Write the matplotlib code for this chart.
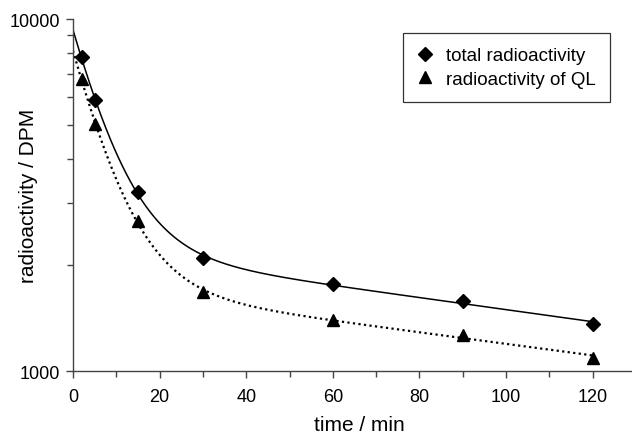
import numpy as np
import matplotlib
matplotlib.use("Agg")
import matplotlib.pyplot as plt
from matplotlib.ticker import LogLocator, NullFormatter, FixedLocator

plt.rcParams['font.family'] = ['Liberation Sans', 'DejaVu Sans']

# sampling times (min) and measured activities (DPM)
time_min = np.array([2, 5, 15, 30, 60, 90, 120])
total_dpm = np.array([7780, 5890, 3230, 2090, 1767, 1585, 1361])
ql_dpm = np.array([6760, 5040, 2675, 1675, 1400, 1267, 1089])

x_ticks = [0, 20, 40, 60, 80, 100, 120]
y_ticks = [1000, 10000]
y_ticklabels = ['1000', '10000']


def biexp_fit(t, y):
    # two-compartment fit y = A exp(-a t) + B exp(-b t), relative weighting
    best = None
    w = 1.0 / y
    for a in np.linspace(0.02, 0.6, 150):
        for b in np.linspace(0.0005, 0.02, 120):
            m = np.column_stack([np.exp(-a * t), np.exp(-b * t)])
            coef, *_ = np.linalg.lstsq(m * w[:, None], y * w, rcond=None)
            err = np.sum(((m @ coef - y) * w) ** 2)
            if best is None or err < best[0]:
                best = (err, a, b, coef)
    _, a, b, (A, B) = best
    return lambda x: A * np.exp(-a * x) + B * np.exp(-b * x)


tt = np.linspace(0, 120, 400)
total_fit = biexp_fit(time_min, total_dpm)
ql_fit = biexp_fit(time_min, ql_dpm)

fig = plt.figure(figsize=(6.32, 4.35), dpi=100)
ax = fig.add_axes([0.1155, 0.1448, 0.8875, 0.8092])

ax.plot(tt, total_fit(tt), color='black', lw=1.1, zorder=2)
ax.plot(tt, ql_fit(tt), color='black', lw=1.6, linestyle=(0, (1, 1.5)), zorder=2)
ax.plot(time_min, total_dpm, 'D', color='black', ms=6.8, label='total radioactivity', zorder=3)
ax.plot(time_min, ql_dpm, '^', color='black', ms=9, label='radioactivity of QL', zorder=3)

ax.set_yscale('log')
ax.set_ylim(1000, 10000)
ax.set_xlim(0, 129.5)
ax.xaxis.set_major_locator(FixedLocator(x_ticks))
ax.xaxis.set_minor_locator(FixedLocator([10, 30, 50, 70, 90, 110]))
ax.yaxis.set_major_locator(FixedLocator(y_ticks))
ax.yaxis.set_minor_locator(LogLocator(base=10, subs=np.arange(2, 10)))
ax.yaxis.set_minor_formatter(NullFormatter())
ax.set_yticklabels(y_ticklabels)

for side in ['top', 'right']:
    ax.spines[side].set_visible(False)
for side in ['left', 'bottom']:
    ax.spines[side].set_color('#444444')
    ax.spines[side].set_linewidth(1.0)

ax.tick_params(which='major', direction='out', length=5, width=1, color='#444444',
               labelsize=13)
ax.tick_params(which='minor', direction='out', length=4, width=1, color='#444444')
ax.tick_params(axis='x', which='major', pad=7)
ax.tick_params(axis='y', which='major', pad=4)

ax.set_xlabel('time / min', fontsize=15)
ax.set_ylabel('radioactivity / DPM', fontsize=15)
ax.xaxis.set_label_coords(0.51, -0.125)
ax.yaxis.set_label_coords(-0.062, 0.5)

leg = ax.legend(loc='upper left', bbox_to_anchor=(0.588, 0.5, 0.369, 0.46), mode='expand',
                borderaxespad=0, frameon=True, fancybox=False, edgecolor='black',
                fontsize=13.5, handlelength=0.85, handletextpad=0.7, borderpad=0.75,
                labelspacing=0.35)
leg.get_frame().set_linewidth(0.9)

fig.savefig('out.png', dpi=100)
